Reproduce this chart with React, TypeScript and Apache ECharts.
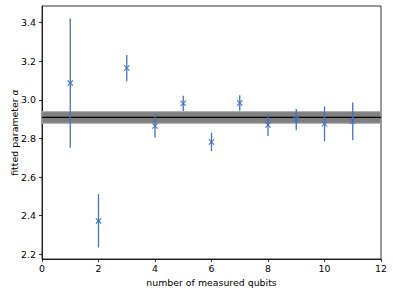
import React, { useEffect, useRef } from "react";
import * as echarts from "echarts";

const qubits = [1, 2, 3, 4, 5, 6, 7, 8, 9, 10, 11];
const alpha = [3.087, 2.373, 3.165, 2.865, 2.982, 2.782, 2.984, 2.870, 2.898, 2.876, 2.889];
const alphaErr = [0.335, 0.138, 0.068, 0.06, 0.04, 0.048, 0.04, 0.057, 0.055, 0.09, 0.098];
const fitValue = 2.909;
const fitErr = 0.03;
const xTicks = [0, 2, 4, 6, 8, 10, 12];
const yTicks = [2.2, 2.4, 2.6, 2.8, 3.0, 3.2, 3.4];

const FONT = "DejaVu Sans";
const FS = 9.4;
const BLUE = "#4472C4";

export default function App() {
  const ref = useRef<HTMLDivElement>(null);
  useEffect(() => {
    if (!ref.current) return;
    const chart = echarts.init(ref.current, null, { renderer: "svg" });
    const points = qubits.map((q, i) => [q, alpha[i], alpha[i] - alphaErr[i], alpha[i] + alphaErr[i]]);
    chart.setOption({
      animation: false,
      backgroundColor: "#ffffff",
      grid: {
        left: 42,
        right: 13,
        top: 6,
        bottom: 36,
        show: true,
        borderColor: "#000000",
        borderWidth: 0.8,
        backgroundColor: "transparent",
        containLabel: false,
        outerBoundsMode: "none",
      },
      xAxis: {
        type: "value",
        min: 0,
        max: 12,
        interval: 2,
        name: "number of measured qubits",
        nameLocation: "middle",
        nameGap: 19,
        nameMoveOverlap: false,
        nameTextStyle: { fontFamily: FONT, fontSize: FS, color: "#000" },
        axisLine: { show: true, onZero: false, lineStyle: { color: "#000", width: 0.8 } },
        axisTick: { show: true, length: 3, lineStyle: { color: "#000", width: 0.8 }, customValues: xTicks },
        axisLabel: {
          fontFamily: FONT,
          fontSize: FS,
          color: "#000",
          margin: 5,
          customValues: xTicks,
          formatter: (v: number) => String(v),
        },
        splitLine: { show: false },
      },
      yAxis: {
        type: "value",
        min: 2.1756,
        max: 3.4865,
        name: "fitted parameter {i|α}",
        nameLocation: "middle",
        nameGap: 23,
        nameMoveOverlap: false,
        nameTextStyle: {
          fontFamily: FONT,
          fontSize: FS,
          color: "#000",
          rich: { i: { fontFamily: FONT, fontSize: FS, fontStyle: "italic", color: "#000" } },
        },
        axisLine: { show: true, onZero: false, lineStyle: { color: "#000", width: 0.8 } },
        axisTick: { show: true, length: 3, lineStyle: { color: "#000", width: 0.8 }, customValues: yTicks },
        axisLabel: {
          fontFamily: FONT,
          fontSize: FS,
          color: "#000",
          margin: 6,
          customValues: yTicks,
          formatter: (v: number) => v.toFixed(1),
        },
        splitLine: { show: false },
      },
      series: [
        {
          type: "custom",
          z: 1,
          clip: true,
          data: [[0]],
          renderItem: (params: any, api: any) => {
            const p1 = api.coord([0, fitValue + fitErr]);
            const p2 = api.coord([12, fitValue - fitErr]);
            const pm = api.coord([0, fitValue]);
            return {
              type: "group",
              children: [
                {
                  type: "rect",
                  shape: { x: p1[0], y: p1[1], width: p2[0] - p1[0], height: p2[1] - p1[1] },
                  style: { fill: "#7f7f7f", stroke: "#a6a6a6", lineWidth: 1 },
                },
                {
                  type: "line",
                  shape: { x1: p1[0], y1: pm[1], x2: p2[0], y2: pm[1] },
                  style: { stroke: "#000000", lineWidth: 1.3 },
                },
              ],
            };
          },
        },
        {
          type: "custom",
          z: 2,
          data: points,
          renderItem: (params: any, api: any) => {
            const x = api.value(0);
            const c = api.coord([x, api.value(1)]);
            const lo = api.coord([x, api.value(2)]);
            const hi = api.coord([x, api.value(3)]);
            const s = 2.6;
            return {
              type: "group",
              children: [
                {
                  type: "line",
                  shape: { x1: c[0], y1: lo[1], x2: c[0], y2: hi[1] },
                  style: { stroke: BLUE, lineWidth: 1.3 },
                },
                {
                  type: "line",
                  shape: { x1: c[0] - s, y1: c[1] - s, x2: c[0] + s, y2: c[1] + s },
                  style: { stroke: BLUE, lineWidth: 1.1 },
                },
                {
                  type: "line",
                  shape: { x1: c[0] - s, y1: c[1] + s, x2: c[0] + s, y2: c[1] - s },
                  style: { stroke: BLUE, lineWidth: 1.1 },
                },
              ],
            };
          },
        },
      ],
    });
    return () => chart.dispose();
  }, []);
  return <div ref={ref} style={{ width: 394, height: 295, position: "absolute", left: 0, top: 0 }} />;
}
